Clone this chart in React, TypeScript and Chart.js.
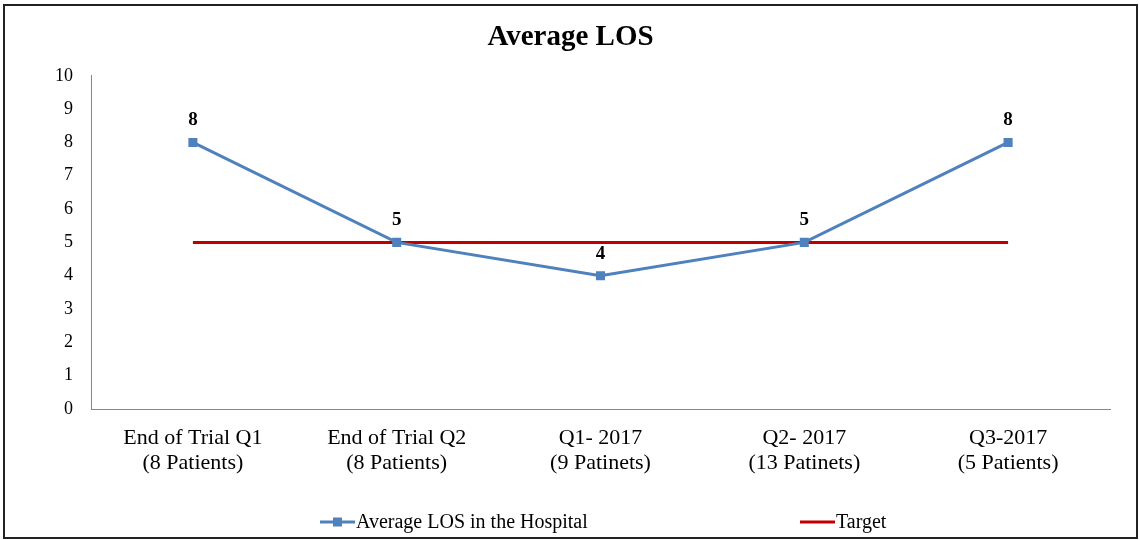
import React, { useEffect, useRef } from "react";
import { Chart, registerables } from "chart.js";

Chart.register(...registerables);

const categories: string[][] = [
  ["End of Trial Q1", "(8 Patients)"],
  ["End of Trial Q2", "(8 Patients)"],
  ["Q1- 2017", "(9 Patinets)"],
  ["Q2- 2017", "(13 Patinets)"],
  ["Q3-2017", "(5 Patients)"],
];
const losValues: number[] = [8, 5, 4, 5, 8];
const targetValues: number[] = [5, 5, 5, 5, 5];
const seriesNames = ["Average LOS in the Hospital", "Target"];
const yTicks = { min: 0, max: 10, step: 1 };

const FONT = "'Liberation Serif', 'Times New Roman', serif";
const BLUE = "#4F81BD";
const RED = "#C00000";

const borderPlugin = {
  id: "outerBorder",
  beforeDraw(chart: any) {
    const { ctx, width, height } = chart;
    ctx.save();
    ctx.fillStyle = "#ffffff";
    ctx.fillRect(0, 0, width, height);
    ctx.strokeStyle = "#222";
    ctx.lineWidth = 2;
    ctx.strokeRect(1, 1, width - 2, height - 2);
    ctx.restore();
  },
};

const dataLabelPlugin = {
  id: "dataLabels",
  afterDatasetsDraw(chart: any) {
    const { ctx } = chart;
    const meta = chart.getDatasetMeta(0);
    const data = chart.data.datasets[0].data;
    ctx.save();
    ctx.font = `bold 19px ${FONT}`;
    ctx.fillStyle = "#000";
    ctx.textAlign = "center";
    ctx.textBaseline = "middle";
    meta.data.forEach((pt: any, i: number) => {
      ctx.fillText(String(data[i]), pt.x, pt.y - 22);
    });
    ctx.restore();
  },
};

const legendPlugin = {
  id: "customLegend",
  afterDraw(chart: any) {
    const { ctx } = chart;
    const y = 518;
    const items = [
      { x: 317, color: BLUE, marker: true, label: chart.data.datasets[0].label },
      { x: 797, color: RED, marker: false, label: chart.data.datasets[1].label },
    ];
    ctx.save();
    ctx.font = `20px ${FONT}`;
    ctx.textBaseline = "middle";
    ctx.textAlign = "left";
    items.forEach((it) => {
      ctx.strokeStyle = it.color;
      ctx.lineWidth = 3;
      ctx.beginPath();
      ctx.moveTo(it.x, y);
      ctx.lineTo(it.x + 35, y);
      ctx.stroke();
      if (it.marker) {
        ctx.fillStyle = it.color;
        ctx.fillRect(it.x + 13, y - 4.5, 9, 9);
      }
      ctx.fillStyle = "#000";
      ctx.fillText(it.label, it.x + 36, y + 1);
    });
    ctx.restore();
  },
};

export default function App() {
  const ref = useRef<HTMLCanvasElement | null>(null);
  useEffect(() => {
    document.body.style.margin = "0";
    const canvas = ref.current!;
    const chart = new Chart(canvas, {
      type: "line",
      data: {
        labels: categories,
        datasets: [
          {
            label: seriesNames[0],
            data: losValues,
            borderColor: BLUE,
            backgroundColor: BLUE,
            borderWidth: 3,
            pointStyle: "rect",
            pointRadius: 6.4,
            pointBorderWidth: 0,
            pointBackgroundColor: BLUE,
            tension: 0,
            order: 0,
          },
          {
            label: seriesNames[1],
            data: targetValues,
            borderColor: RED,
            backgroundColor: RED,
            borderWidth: 3,
            pointRadius: 0,
            tension: 0,
            order: 1,
          },
        ],
      },
      options: {
        responsive: false,
        animation: false,
        devicePixelRatio: 1,
        layout: { padding: { left: 28, right: 28, top: 0, bottom: 60 } },
        plugins: {
          legend: { display: false },
          tooltip: { enabled: false },
          title: {
            display: true,
            text: "Average LOS",
            color: "#000",
            font: { family: FONT, size: 29, weight: "bold" },
            padding: { top: 16, bottom: 21 },
          },
        },
        scales: {
          x: {
            offset: true,
            grid: { display: false, drawTicks: false, tickLength: 0 },
            border: { display: true, color: "#868686", width: 1 },
            ticks: {
              color: "#000",
              font: { family: FONT, size: 22, lineHeight: 1.14 },
              padding: 17,
              maxRotation: 0,
              autoSkip: false,
            },
            afterFit(scale: any) {
              scale.height = 70;
            },
          },
          y: {
            min: yTicks.min,
            max: yTicks.max,
            grid: { display: false, drawTicks: false, tickLength: 0 },
            border: { display: true, color: "#868686", width: 1 },
            ticks: {
              stepSize: yTicks.step,
              color: "#000",
              font: { family: FONT, size: 18 },
              padding: 18,
            },
            afterFit(scale: any) {
              scale.width = 60;
            },
          },
        },
      },
      plugins: [borderPlugin, dataLabelPlugin, legendPlugin],
    });
    return () => chart.destroy();
  }, []);
  return (
    <canvas
      ref={ref}
      width={1135}
      height={535}
      style={{ position: "absolute", left: 3, top: 4, width: 1135, height: 535 }}
    />
  );
}
